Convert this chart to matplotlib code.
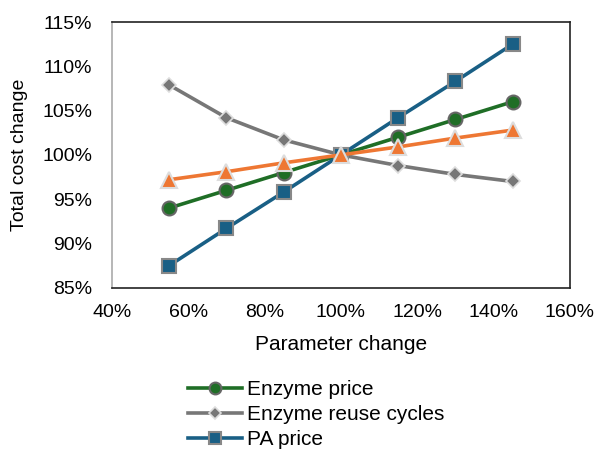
import matplotlib
matplotlib.use("Agg")
from matplotlib import pyplot as plt
from matplotlib.ticker import PercentFormatter

plt.rcParams['font.family'] = ['Liberation Sans', 'DejaVu Sans']

# parameter change (%)
param = [55, 70, 85, 100, 115, 130, 145]

enzyme_price = [94.0, 96.0, 98.0, 100.0, 102.0, 104.0, 106.0]
enzyme_reuse = [107.9, 104.2, 101.7, 100.0, 98.8, 97.8, 97.0]
pa_price = [87.5, 91.7, 95.8, 100.0, 104.2, 108.3, 112.5]
other_price = [97.2, 98.1, 99.1, 100.0, 100.9, 101.9, 102.8]

fig = plt.figure(figsize=(5.98, 4.49), dpi=100)
ax = fig.add_axes([0.187, 0.359, 0.766, 0.592])

ax.plot(param, enzyme_price, color='#1f6e26', lw=2.6, marker='o', ms=10,
        mfc='#1f6e26', mec='#666666', mew=1.5, label='Enzyme price', zorder=3)
ax.plot(param, enzyme_reuse, color='#777777', lw=2.6, marker='D', ms=7,
        mfc='#777777', mec='#dddddd', mew=1.2, label='Enzyme reuse cycles', zorder=2)
ax.plot(param, pa_price, color='#195f85', lw=2.6, marker='s', ms=10,
        mfc='#195f85', mec='#888888', mew=1.5, label='PA price', zorder=4)
ax.plot(param, other_price, color='#ee7733', lw=2.6, marker='^', ms=12,
        mfc='#ee7733', mec='#dddddd', mew=1.5, label='Solvent price', zorder=5)

ax.set_xlim(40, 160)
ax.set_ylim(85, 115)
ax.set_xticks(range(40, 161, 20))
ax.set_yticks(range(85, 116, 5))
ax.xaxis.set_major_formatter(PercentFormatter(decimals=0))
ax.yaxis.set_major_formatter(PercentFormatter(decimals=0))
ax.tick_params(labelsize=14, length=0)
ax.tick_params(axis='x', pad=12)
ax.tick_params(axis='y', pad=14)
for s in ax.spines.values():
    s.set_color('#222222')
    s.set_linewidth(1.2)
ax.spines['left'].set_color('#aaaaaa')

ax.set_xlabel('Parameter change', fontsize=15, labelpad=10)
ax.set_ylabel('Total cost change', fontsize=14, labelpad=10)

fig.legend(loc='upper left', bbox_to_anchor=(0.314, 0.154), frameon=False,
           fontsize=15, borderpad=0, borderaxespad=0, labelspacing=0.3,
           handlelength=2.6, handletextpad=0.25, markerscale=0.85)

fig.savefig('out.png', dpi=100)
